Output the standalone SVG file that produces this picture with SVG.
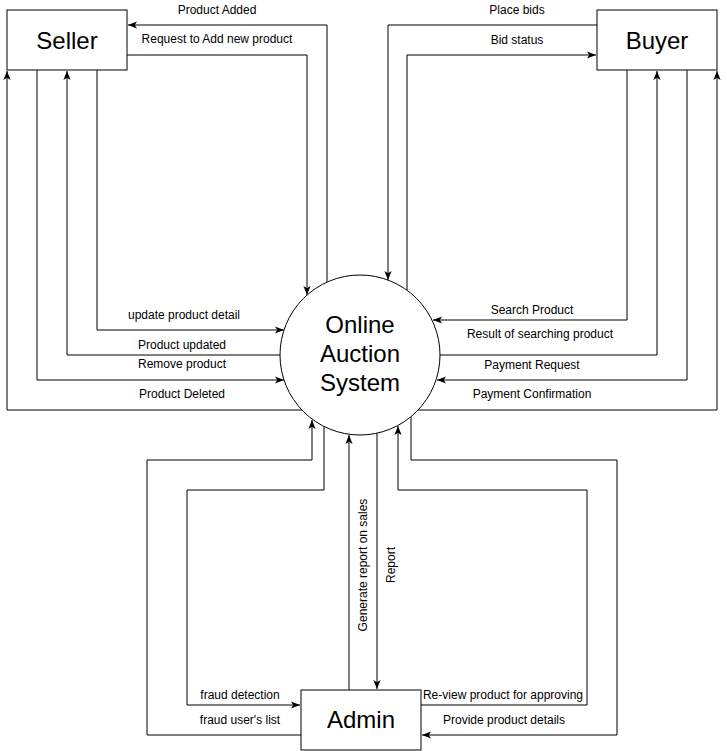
<svg xmlns="http://www.w3.org/2000/svg" width="727" height="751" viewBox="0 0 727 751">
<style>
.box{fill:#fff;stroke:#000;stroke-width:1}
.node{font-family:"Liberation Sans",Arial,sans-serif;font-size:24px;fill:#000;text-anchor:middle}
.lbl{font-family:"Liberation Sans",Arial,sans-serif;font-size:12px;fill:#000;text-anchor:middle}
.edge{fill:none;stroke:#000;stroke-width:1}
.arr{marker-end:url(#ah)}
</style>
<defs>
<marker id="ah" viewBox="0 0 10 10" refX="10" refY="5" markerWidth="9" markerHeight="9" markerUnits="userSpaceOnUse" orient="auto">
<path d="M0,1 L10,5 L0,9 L2.5,5 z" fill="#000"/>
</marker>
</defs>
<rect width="727" height="751" fill="#fff"/>
<g id="connectors">
<path class="edge arr" d="M327,282 V25 H128"/>
<path class="edge arr" d="M127,55 H307 V295"/>
<path class="edge arr" d="M97,70 V330 H284"/>
<path class="edge arr" d="M280,355 H67 V71"/>
<path class="edge arr" d="M37,70 V380 H284"/>
<path class="edge arr" d="M302,410 H7 V71"/>
<path class="edge arr" d="M597,25 H388 V280"/>
<path class="edge arr" d="M407,290 V55 H596"/>
<path class="edge arr" d="M627,70 V320 H433"/>
<path class="edge arr" d="M440,355 H657 V71"/>
<path class="edge arr" d="M687,70 V380 H437"/>
<path class="edge arr" d="M418,410 H717 V71"/>
<path class="edge arr" d="M301,735 H147 V460 H312 V420"/>
<path class="edge arr" d="M324,426 V490 H187 V705 H300"/>
<path class="edge arr" d="M349,690 V435"/>
<path class="edge arr" d="M377,433 V689"/>
<path class="edge arr" d="M421,705 H587 V490 H398 V426"/>
<path class="edge arr" d="M411,417 V460 H617 V735 H422"/>
</g>
<g id="labels">
<text class="lbl" x="217" y="14">Product Added</text>
<text class="lbl" x="217" y="43">Request to Add new product</text>
<text class="lbl" x="184" y="319">update product detail</text>
<text class="lbl" x="182" y="349">Product updated</text>
<text class="lbl" x="182" y="368">Remove product</text>
<text class="lbl" x="182" y="398">Product Deleted</text>
<text class="lbl" x="517" y="14">Place bids</text>
<text class="lbl" x="517" y="44">Bid status</text>
<text class="lbl" x="532" y="314">Search Product</text>
<text class="lbl" x="540" y="338">Result of searching product</text>
<text class="lbl" x="532" y="369">Payment Request</text>
<text class="lbl" x="532" y="398">Payment Confirmation</text>
<text class="lbl" x="240" y="699">fraud detection</text>
<text class="lbl" x="240" y="724">fraud user's list</text>
<text class="lbl" x="503" y="699">Re-view product for approving</text>
<text class="lbl" x="504" y="724">Provide product details</text>
<text class="lbl" transform="translate(366.5,565) rotate(-90)">Generate report on sales</text>
<text class="lbl" transform="translate(395,565) rotate(-90)">Report</text>
</g>
<g id="seller">
<rect class="box" x="7" y="10" width="120" height="60"/>
<text class="node" x="67" y="48.5">Seller</text>
</g>
<g id="buyer">
<rect class="box" x="597" y="10" width="120" height="60"/>
<text class="node" x="657" y="48.5">Buyer</text>
</g>
<g id="admin">
<rect class="box" x="301" y="690" width="120" height="60"/>
<text class="node" x="361" y="727.5">Admin</text>
</g>
<g id="system">
<circle class="box" cx="360" cy="355" r="80"/>
<text class="node" x="360" y="333">Online</text>
<text class="node" x="360" y="362">Auction</text>
<text class="node" x="360" y="391">System</text>
</g>
</svg>
